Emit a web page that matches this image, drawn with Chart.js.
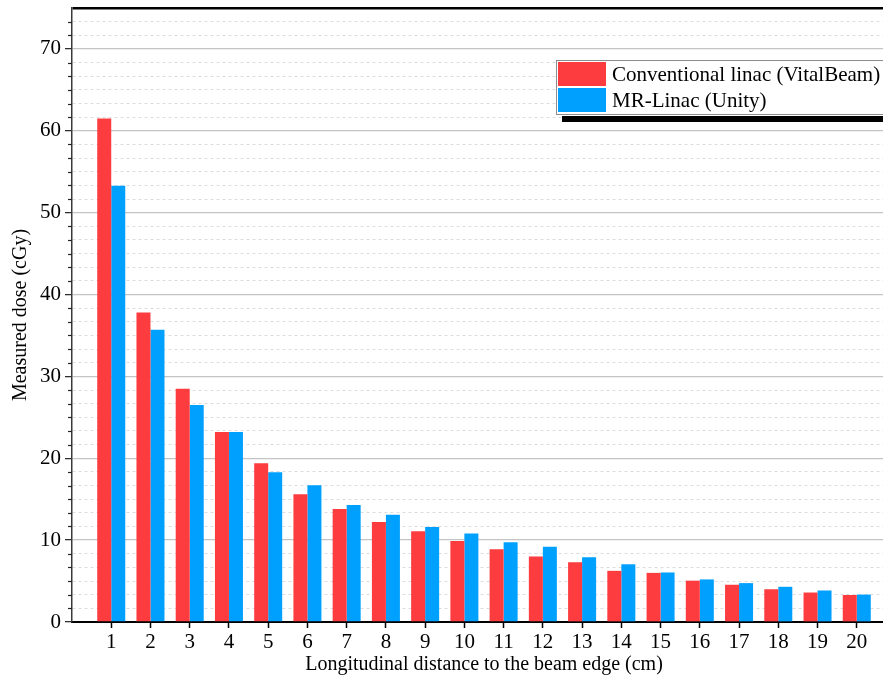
<!DOCTYPE html>
<html>
<head>
<meta charset="utf-8">
<script src="https://cdn.jsdelivr.net/npm/chart.js@4/dist/chart.umd.min.js"></script>
<style>
  html, body { margin: 0; padding: 0; overflow: hidden; background: #fff; }
  #c { display: block; }
</style>
</head>
<body>
<canvas id="c" width="896" height="677"></canvas>
<script>
// ---- data ----
const categories = [1,2,3,4,5,6,7,8,9,10,11,12,13,14,15,16,17,18,19,20];
const conventional = [61.5,37.8,28.5,23.2,19.4,15.6,13.8,12.2,11.1,9.9,8.9,8.0,7.3,6.25,6.0,5.05,4.55,4.0,3.6,3.3];
const mrLinac      = [53.3,35.7,26.5,23.2,18.3,16.7,14.3,13.1,11.6,10.8,9.75,9.2,7.9,7.05,6.05,5.2,4.75,4.3,3.85,3.35];
const seriesNames = ['Conventional linac (VitalBeam)', 'MR-Linac (Unity)'];
const yTickLabels = [0,10,20,30,40,50,60,70];
const xTitle = 'Longitudinal distance to the beam edge (cm)';
const yTitle = 'Measured dose (cGy)';

const RED = '#FD3C40';
const BLUE = '#00A0FE';
const FONT = "'Liberation Serif', 'Times New Roman', serif";

function isMajor(v) { return Math.abs(v / 10 - Math.round(v / 10)) < 1e-6; }
function isTop(v) { return Math.abs(v - 75) < 1e-6; }

const legendPlugin = {
  id: 'boxLegend',
  afterDraw(chart) {
    const ctx = chart.ctx;
    const ds = chart.data.datasets;
    const x = 556, y = 60, w = 334, h = 54;
    ctx.save();
    // shadow
    ctx.fillStyle = '#000';
    ctx.fillRect(x + 6, y + h + 2, w + 6, 6);
    ctx.fillRect(x + w + 1, y + 6, 6, h + 2);
    // box
    ctx.fillStyle = '#fff';
    ctx.fillRect(x, y, w, h);
    ctx.strokeStyle = '#8c8c8c';
    ctx.lineWidth = 1;
    ctx.strokeRect(x + 0.5, y + 0.5, w, h);
    ctx.font = '21px ' + FONT;
    ctx.textBaseline = 'middle';
    ctx.textAlign = 'left';
    ds.forEach((d, i) => {
      const ry = y + 2 + i * 26;
      ctx.fillStyle = d.backgroundColor;
      ctx.fillRect(x + 2, ry, 48, 24);
      ctx.fillStyle = '#000';
      ctx.fillText(d.label, x + 56, ry + 13);
    });
    ctx.restore();
  }
};

const minorTickPlugin = {
  id: 'minorTicks',
  afterDatasetsDraw(chart) {
    const s = chart.scales.y;
    const ctx = chart.ctx;
    ctx.save();
    ctx.strokeStyle = '#222';
    ctx.lineWidth = 1.2;
    s.ticks.forEach(t => {
      if (isMajor(t.value) || isTop(t.value)) return;
      const py = Math.round(s.getPixelForValue(t.value)) + 0.5;
      ctx.beginPath();
      ctx.moveTo(s.right - 4, py);
      ctx.lineTo(s.right, py);
      ctx.stroke();
    });
    ctx.restore();
  }
};

new Chart(document.getElementById('c'), {
  type: 'bar',
  data: {
    datasets: [
      { label: seriesNames[0], data: categories.map((c, i) => ({ x: c, y: conventional[i] })), backgroundColor: RED, borderWidth: 0 },
      { label: seriesNames[1], data: categories.map((c, i) => ({ x: c, y: mrLinac[i] })), backgroundColor: BLUE, borderWidth: 0 }
    ]
  },
  plugins: [legendPlugin, minorTickPlugin],
  options: {
    responsive: false,
    animation: false,
    devicePixelRatio: 1,
    layout: { padding: { top: 8, right: 0, left: 0, bottom: 0 } },
    plugins: { legend: { display: false }, tooltip: { enabled: false } },
    datasets: { bar: { categoryPercentage: 0.714, barPercentage: 1.0 } },
    scales: {
      x: {
        type: 'linear',
        offset: false,
        min: 0,
        max: 21,
        afterBuildTicks: s => { s.ticks = categories.map(v => ({ value: v })); },
        afterFit: s => { s.height = 55; s.paddingLeft = 0; s.paddingRight = 0; },
        ticks: {
          autoSkip: false,
          maxRotation: 0,
          padding: 2,
          color: '#000',
          font: { family: FONT, size: 21 },
          callback: v => String(v)
        },
        grid: { offset: false, drawOnChartArea: false, drawTicks: true, tickLength: 6, tickColor: '#000', tickWidth: 1.5 },
        border: { display: true, color: '#000', width: 2 },
        title: {
          display: true,
          text: xTitle,
          color: '#000',
          font: { family: FONT, size: 20, lineHeight: 1.2 },
          padding: { top: 0, bottom: 0 }
        }
      },
      y: {
        min: 0,
        max: 75,
        afterBuildTicks: s => {
          const t = [];
          for (let i = 0; i <= 45; i++) t.push({ value: i * 10 / 6 });
          s.ticks = t;
        },
        afterFit: s => { s.width = 72; s.paddingTop = 0; s.paddingBottom = 0; },
        ticks: {
          autoSkip: false,
          padding: 4,
          color: '#000',
          font: { family: FONT, size: 21 },
          callback: v => {
            if (!isMajor(v)) return '';
            const r = Math.round(v);
            return yTickLabels.includes(r) ? String(r) : '';
          }
        },
        grid: {
          drawTicks: true,
          tickLength: 7,
          tickWidth: 1.2,
          tickColor: c => (c.tick && isMajor(c.tick.value)) ? '#222' : 'rgba(0,0,0,0)',
          color: c => {
            if (!c.tick) return '#ccc';
            const v = c.tick.value;
            if (isTop(v)) return '#000';
            if (Math.abs(v) < 1e-6) return 'rgba(0,0,0,0)';
            return isMajor(v) ? '#c4c4c4' : '#dcdcdc';
          },
          lineWidth: c => {
            if (!c.tick) return 1;
            const v = c.tick.value;
            if (isTop(v)) return 2.5;
            return isMajor(v) ? 1.3 : 1;
          }
        },
        border: {
          display: true,
          color: '#3a3a3a',
          width: 1.5,
          dash: c => {
            if (!c || !c.tick) return [];
            const v = c.tick.value;
            return (isMajor(v) || isTop(v)) ? [] : [3, 3];
          }
        },
        title: {
          display: true,
          text: yTitle,
          color: '#000',
          font: { family: FONT, size: 20, lineHeight: 1.2 },
          padding: { top: 9, bottom: 0 }
        }
      }
    }
  }
});
</script>
</body>
</html>
